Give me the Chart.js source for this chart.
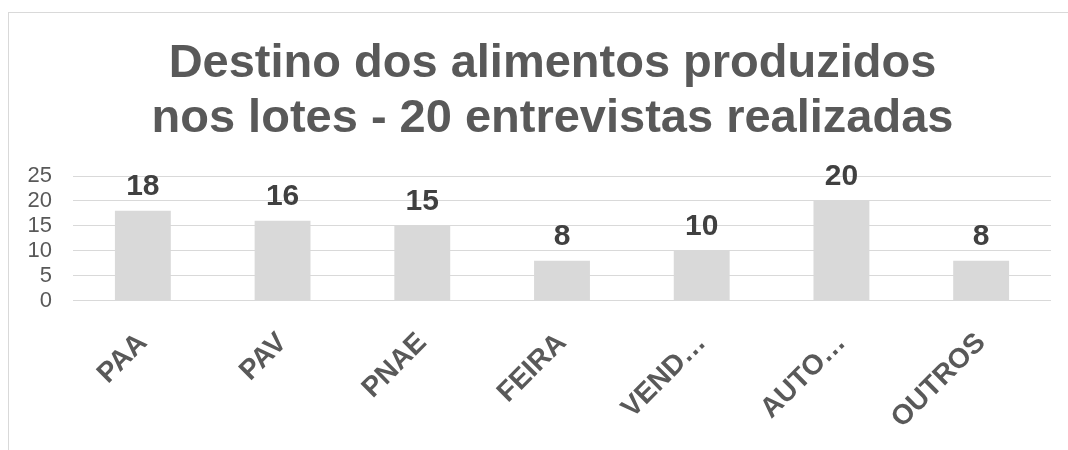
<!DOCTYPE html>
<html>
<head>
<meta charset="utf-8">
<script src="https://cdn.jsdelivr.net/npm/chart.js@4.4.1/dist/chart.umd.min.js"></script>
<style>
  html, body { margin: 0; padding: 0; background: #ffffff; overflow: hidden; width: 1068px; height: 450px; }
  #frame { position: absolute; left: 8px; top: 12px; width: 1100px; height: 450px;
           border-left: 1px solid #d9d9d9; border-top: 1px solid #d9d9d9; }
  #wrap { position: absolute; left: 9px; top: 13px; width: 1090px; height: 440px; }
</style>
</head>
<body>
<div id="frame"></div>
<div id="wrap"><canvas id="c"></canvas></div>
<script>
const titleLines = ["Destino dos alimentos produzidos", "nos lotes - 20 entrevistas realizadas"];
const categories = ["PAA", "PAV", "PNAE", "FEIRA", "VEND…", "AUTO…", "OUTROS"];
const values = [18, 16, 15, 8, 10, 20, 8];
const yTicks = [0, 5, 10, 15, 20, 25];

const FONT = '"Liberation Sans", Arial, sans-serif';

const valueLabels = {
  id: 'valueLabels',
  afterDatasetsDraw(chart) {
    const ctx = chart.ctx;
    const meta = chart.getDatasetMeta(0);
    ctx.save();
    ctx.font = 'bold 30px ' + FONT;
    ctx.fillStyle = '#404040';
    ctx.textAlign = 'center';
    ctx.textBaseline = 'alphabetic';
    meta.data.forEach((bar, i) => {
      ctx.fillText(String(values[i]), bar.x, bar.y - 16);
    });
    ctx.restore();
  }
};

const chartTitle = {
  id: 'chartTitle',
  afterDraw(chart) {
    const ctx = chart.ctx;
    ctx.save();
    ctx.font = 'bold 47px ' + FONT;
    ctx.fillStyle = '#595959';
    ctx.textAlign = 'center';
    ctx.textBaseline = 'alphabetic';
    const cx = chart.width / 2 - 1.5;
    ctx.fillText(titleLines[0], cx, 64);
    ctx.fillText(titleLines[1], cx, 119);
    ctx.restore();
  }
};

new Chart(document.getElementById('c'), {
  type: 'bar',
  data: {
    labels: categories,
    datasets: [{
      data: values,
      backgroundColor: '#d9d9d9',
      borderWidth: 0,
      categoryPercentage: 1.0,
      barPercentage: 0.4
    }]
  },
  options: {
    responsive: true,
    maintainAspectRatio: false,
    animation: false,
    layout: { padding: { left: 0, right: 48, top: 163, bottom: 0 } },
    plugins: {
      legend: { display: false },
      tooltip: { enabled: false },
      title: { display: false }
    },
    scales: {
      x: {
        grid: { display: false },
        border: { display: false },
        ticks: {
          color: '#595959',
          font: { family: FONT, size: 28, weight: 'bold' },
          minRotation: 45,
          maxRotation: 45,
          autoSkip: false,
          padding: 18
        },
        afterFit(scale) { scale.height = 152.5; }
      },
      y: {
        min: 0,
        max: 25,
        afterBuildTicks(scale) { scale.ticks = yTicks.map(v => ({ value: v })); },
        grid: { color: '#d9d9d9', lineWidth: 1, drawTicks: false },
        border: { display: false },
        ticks: {
          color: '#595959',
          font: { family: FONT, size: 22 },
          padding: 21,
          autoSkip: false,
          stepSize: 5
        },
        afterFit(scale) { scale.width = 64; }
      }
    }
  },
  plugins: [valueLabels, chartTitle]
});
</script>
</body>
</html>
